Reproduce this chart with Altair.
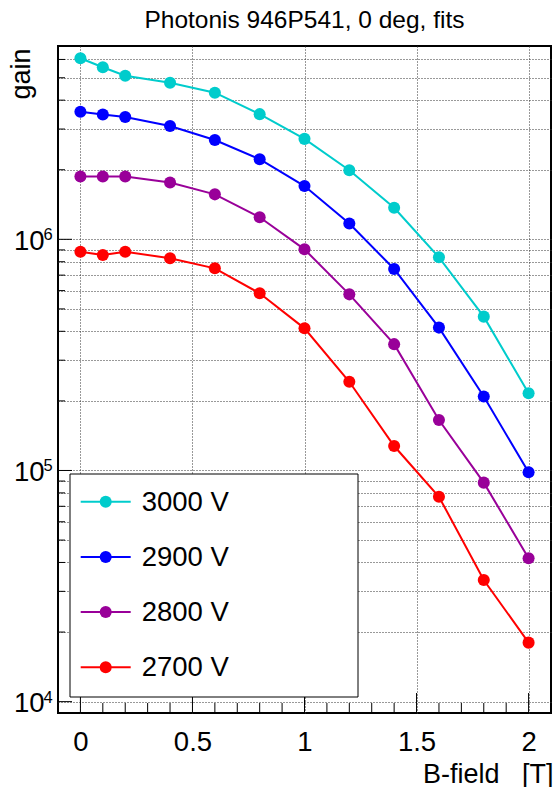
import altair as alt
import pandas as pd

# Magnetic field [T] at which the gain was measured
bfield = [0.0, 0.1, 0.2, 0.4, 0.6, 0.8, 1.0, 1.2, 1.4, 1.6, 1.8, 2.0]

# Gain at each high-voltage setting
gain_3000 = [6.07e6, 5.55e6, 5.10e6, 4.76e6, 4.31e6, 3.48e6, 2.72e6, 1.99e6, 1.37e6, 8.36e5, 4.63e5, 2.16e5]
gain_2900 = [3.56e6, 3.47e6, 3.38e6, 3.09e6, 2.69e6, 2.22e6, 1.70e6, 1.17e6, 7.44e5, 4.15e5, 2.09e5, 9.82e4]
gain_2800 = [1.87e6, 1.87e6, 1.87e6, 1.76e6, 1.565e6, 1.246e6, 9.05e5, 5.78e5, 3.52e5, 1.654e5, 8.86e4, 4.17e4]
gain_2700 = [8.84e5, 8.55e5, 8.84e5, 8.28e5, 7.49e5, 5.84e5, 4.12e5, 2.42e5, 1.276e5, 7.70e4, 3.36e4, 1.80e4]

series_labels = ["3000 V", "2900 V", "2800 V", "2700 V"]
series_values = [gain_3000, gain_2900, gain_2800, gain_2700]
series_colors = ["#00cccc", "#0000ff", "#990099", "#ff0000"]

# Axis ticks
x_major = [0.0, 0.5, 1.0, 1.5, 2.0]
x_minor = [0.1, 0.2, 0.3, 0.4, 0.6, 0.7, 0.8, 0.9, 1.1, 1.2, 1.3, 1.4,
           1.6, 1.7, 1.8, 1.9]
y_major = [1e4, 1e5, 1e6]
y_exponents = ["4", "5", "6"]
y_minor = [2e4, 3e4, 4e4, 5e4, 6e4, 7e4, 8e4, 9e4,
           2e5, 3e5, 4e5, 5e5, 6e5, 7e5, 8e5, 9e5,
           2e6, 3e6, 4e6, 5e6, 6e6]

rows = []
for label, vals in zip(series_labels, series_values):
    for b, g in zip(bfield, vals):
        rows.append({"bfield": b, "gain": g, "series": label})
df = pd.DataFrame(rows)
legend_df = pd.DataFrame({"series": series_labels})

W, H = 493, 667
FONT = "Liberation Sans"
GRID_DASH = [1, 2]

xs = alt.Scale(domain=[-0.1, 2.1], nice=False, zero=False)
ys = alt.Scale(type="log", domain=[8930, 6.86e6], nice=False)
cs = alt.Scale(domain=series_labels, range=series_colors)

x_axis = alt.Axis(
    values=x_major, grid=True, gridDash=GRID_DASH, gridColor="#333",
    ticks=False, tickSize=0, domain=False,
    labelFont=FONT, labelFontSize=27.5, labelColor="black",
    labelBaseline="alphabetic", labelPadding=37,
    labelExpr="datum.value == 0 ? '0' : format(datum.value, '~g')",
    title="B-field\u00a0\u00a0\u00a0[T]", titleFont=FONT, titleFontSize=27,
    titleFontWeight="normal", titleColor="black",
    titleX=W + 2, titleY=69, titleAlign="right", titleAnchor="end",
    titleBaseline="alphabetic",
)
y_axis = alt.Axis(
    values=y_major + y_minor, grid=True, gridDash=GRID_DASH, gridColor="#333",
    ticks=False, tickSize=0, domain=False,
    labelFont=FONT, labelFontSize=27.5, labelColor="black",
    labelBaseline="middle", labelPadding=14, labelOffset=2,
    labelExpr="abs(log(datum.value)/LN10 - round(log(datum.value)/LN10)) < 1e-6 ? '10' : ''",
    title="gain", titleFont=FONT, titleFontSize=27, titleFontWeight="normal",
    titleColor="black", titleAngle=270, titleX=-29, titleY=2,
    titleAlign="right", titleBaseline="alphabetic",
)

X = lambda f: alt.X(f, scale=xs, axis=x_axis)
Y = lambda f: alt.Y(f, scale=ys, axis=y_axis)
C = alt.Color("series:N", scale=cs, legend=None)

lines = alt.Chart(df).mark_line(strokeWidth=2).encode(
    x=X("bfield:Q"), y=Y("gain:Q"), color=C,
)
points = alt.Chart(df).mark_circle(size=145, opacity=1).encode(
    x=X("bfield:Q"), y=Y("gain:Q"), color=C,
)

# Inward ticks on the frame
xtick_major = alt.Chart(pd.DataFrame({"bfield": x_major})).mark_rule(color="black", strokeWidth=1).encode(
    x=X("bfield:Q"), y=alt.value(H), y2=alt.value(H - 20))
xtick_minor = alt.Chart(pd.DataFrame({"bfield": x_minor})).mark_rule(color="black", strokeWidth=1).encode(
    x=X("bfield:Q"), y=alt.value(H), y2=alt.value(H - 10))
ytick_major = alt.Chart(pd.DataFrame({"gain": y_major})).mark_rule(color="black", strokeWidth=1).encode(
    y=Y("gain:Q"), x=alt.value(0), x2=alt.value(14))
ytick_minor = alt.Chart(pd.DataFrame({"gain": y_minor})).mark_rule(color="black", strokeWidth=1).encode(
    y=Y("gain:Q"), x=alt.value(0), x2=alt.value(7))

# Exponents of the decade labels
exponents = alt.Chart(pd.DataFrame({"gain": y_major, "e": y_exponents})).mark_text(
    font=FONT, fontSize=16.5, align="left", baseline="alphabetic", dy=1, color="black"
).encode(y=Y("gain:Q"), x=alt.value(-14.5), text="e:N")

# Legend frame
legend_box = alt.Chart(pd.DataFrame({"k": [0]})).mark_rect(
    fill="white", stroke="black", strokeWidth=1
).encode(x=alt.value(12), x2=alt.value(300), y=alt.value(428), y2=alt.value(651))

main = alt.layer(
    lines, points, xtick_major, xtick_minor, ytick_major, ytick_minor,
    legend_box, exponents,
)

# Legend entries: line + marker + label, one row per series
ly = alt.Y("series:N", scale=alt.Scale(type="point", domain=series_labels,
                                       range=[455.7, 621.3], padding=0), axis=None)
leg_line = alt.Chart(legend_df).mark_rule(strokeWidth=2).encode(
    y=ly, x=alt.value(22.7), x2=alt.value(72.7), color=C)
leg_dot = alt.Chart(legend_df).mark_circle(size=145, opacity=1).encode(
    y=ly, x=alt.value(47.7), color=C)
leg_text = alt.Chart(legend_df).mark_text(
    font=FONT, fontSize=27.5, align="left", baseline="middle", dy=1, color="black"
).encode(y=ly, x=alt.value(83.7), text="series:N")
legend = alt.layer(leg_line, leg_dot, leg_text)

chart = alt.layer(main, legend).resolve_scale(y="independent").properties(
    width=W, height=H,
    title=alt.Title("Photonis 946P541, 0 deg, fits", font=FONT, fontSize=24.5,
                    fontWeight="normal", color="black", frame="group",
                    anchor="middle", baseline="alphabetic", offset=17, dy=23),
    padding={"left": 58, "top": 46, "right": 2, "bottom": 74},
    autosize=alt.AutoSizeParams(type="none"),
).configure(
    font=FONT,
    view=alt.ViewConfig(stroke="black", strokeWidth=2),
)

chart.save("out.html", embed_options={"renderer": "svg", "actions": False})
